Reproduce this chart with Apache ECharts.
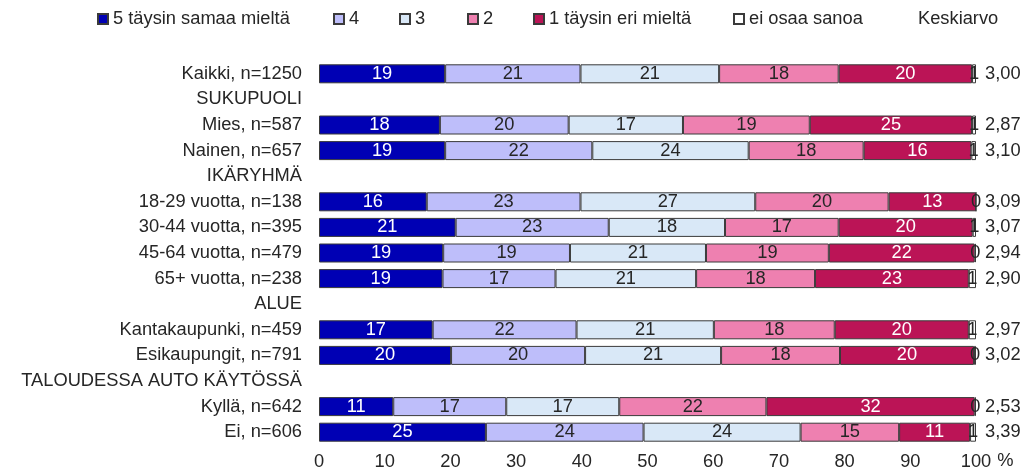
<!DOCTYPE html>
<html>
<head>
<meta charset="utf-8">
<script src="https://cdn.jsdelivr.net/npm/echarts@6/dist/echarts.min.js"></script>
<style>
html,body{margin:0;padding:0;background:#fff;}
#chart{width:1027px;height:476px;}
</style>
</head>
<body>
<div id="chart"></div>
<script>
const categories = ['Kaikki, n=1250','SUKUPUOLI','Mies, n=587','Nainen, n=657','IKÄRYHMÄ','18-29 vuotta, n=138','30-44 vuotta, n=395','45-64 vuotta, n=479','65+ vuotta, n=238','ALUE','Kantakaupunki, n=459','Esikaupungit, n=791','TALOUDESSA AUTO KÄYTÖSSÄ','Kyllä, n=642','Ei, n=606'];
const seriesNames = ['5 täysin samaa mieltä','4','3','2','1 täysin eri mieltä','ei osaa sanoa'];
const v5  = [19.2,'-',18.4,19.2,'-',16.4,20.8,18.9,18.8,'-',17.3,20.1,'-',11.3,25.4];
const v4  = [20.6,'-',19.6,22.4,'-',23.4,23.3,19.3,17.2,'-',21.9,20.4,'-',17.2,24.0];
const v3  = [21.1,'-',17.4,23.8,'-',26.6,17.7,20.7,21.4,'-',20.9,20.7,'-',17.2,23.9];
const v2  = [18.2,'-',19.3,17.5,'-',20.3,17.3,18.7,18.1,'-',18.4,18.1,'-',22.4,15.0];
const v1  = [20.3,'-',24.7,16.4,'-',13.3,20.4,22.2,23.4,'-',20.4,20.4,'-',31.7,10.8];
const vEi = [0.6,'-',0.6,0.7,'-',0.0,0.5,0.2,1.1,'-',1.1,0.3,'-',0.2,0.9];
const keskiarvo = ['3,00','','2,87','3,10','','3,09','3,07','2,94','2,90','','2,97','3,02','','2,53','3,39'];
const xTicks = [0,10,20,30,40,50,60,70,80,90,100];

const colors = ['#0000B4','#BEBEFA','#D9E8F7','#EE80B0','#BB1456','#FFFFFF'];
const labelColors = ['#FFFFFF','#262626','#262626','#262626','#FFFFFF','#262626'];
const allValues = [v5,v4,v3,v2,v1,vEi];
const FONT = 'Liberation Sans, Arial, sans-serif';
const TXT = '#262626';
const FS = 18.3;

const chart = echarts.init(document.getElementById('chart'), null, {renderer:'canvas'});

const series = seriesNames.map((name,i)=>({
  name: name,
  type: 'bar',
  stack: 'total',
  data: allValues[i],
  barWidth: 19,
  itemStyle: {color: colors[i], borderColor: '#3a3a3a', borderWidth: 1},
  label: {
    show: true,
    position: 'inside',
    color: labelColors[i],
    fontFamily: FONT,
    fontSize: FS,
    formatter: p => String(Math.round(p.value))
  },
  emphasis: {disabled: true},
  animation: false
}));

const legendLefts = [97,333,399,467,533,733];
const legends = seriesNames.map((name,i)=>({
  data: [name],
  left: legendLefts[i],
  top: 10,
  padding: 0,
  itemWidth: 10,
  itemHeight: 10,
  itemGap: 0,
  icon: 'rect',
  selectedMode: false,
  textStyle: {fontFamily: FONT, fontSize: FS, color: TXT, padding: [0,0,0,0]}
}));

chart.setOption({
  animation: false,
  backgroundColor: '#fff',
  title: {
    text: 'Keskiarvo',
    left: 918,
    top: 10,
    padding: 0,
    textStyle: {fontFamily: FONT, fontSize: FS, fontWeight: 'normal', color: TXT}
  },
  legend: legends,
  grid: {left: 319, right: 51, top: 61, bottom: 31, containLabel: false},
  xAxis: {
    type: 'value',
    min: 0, max: 100, interval: 10,
    axisLine: {show: false},
    axisTick: {show: false},
    splitLine: {show: false},
    axisLabel: {fontFamily: FONT, fontSize: FS, color: TXT, margin: 8,
      customValues: xTicks},
    name: '%',
    nameLocation: 'end',
    nameGap: 21,
    nameTextStyle: {fontFamily: FONT, fontSize: FS, color: TXT, verticalAlign: 'top', padding: [7,0,0,0]}
  },
  yAxis: [
    {
      type: 'category',
      data: categories,
      inverse: true,
      axisLine: {show: false},
      axisTick: {show: false},
      splitLine: {show: false},
      axisLabel: {fontFamily: FONT, fontSize: FS, color: TXT, margin: 17}
    },
    {
      type: 'category',
      data: keskiarvo,
      inverse: true,
      position: 'right',
      axisLine: {show: false},
      axisTick: {show: false},
      splitLine: {show: false},
      axisLabel: {fontFamily: FONT, fontSize: FS, color: TXT, margin: 9}
    }
  ],
  series: series
});
</script>
</body>
</html>
